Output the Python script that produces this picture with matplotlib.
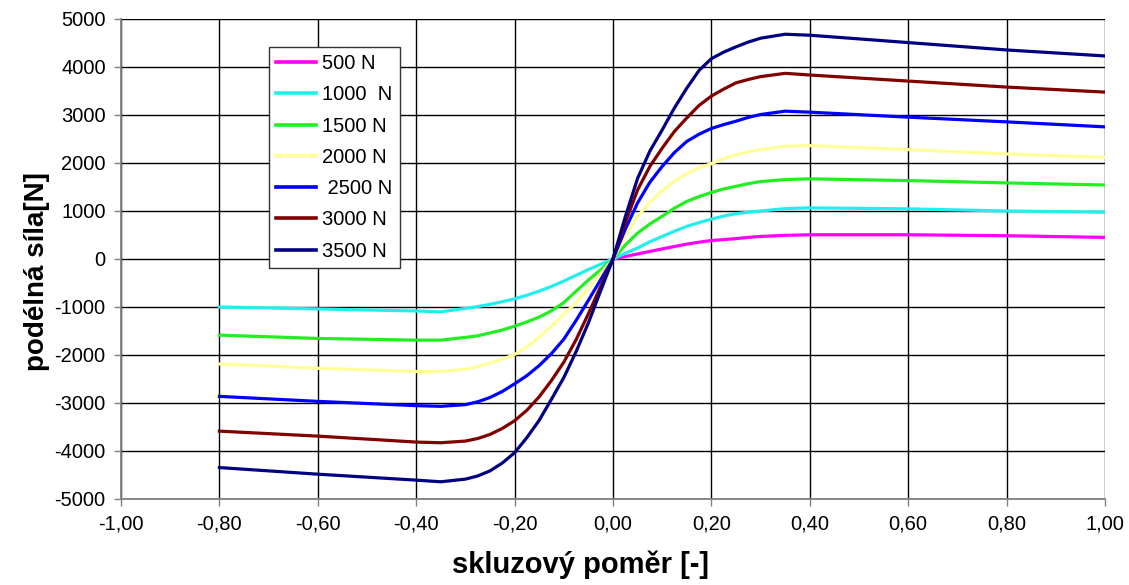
import matplotlib
matplotlib.use("Agg")
import matplotlib.pyplot as plt
from matplotlib.ticker import FixedLocator, FuncFormatter

# ---- data ----
x_full = [-0.8, -0.6, -0.4, -0.35, -0.3, -0.275, -0.25, -0.225, -0.2, -0.175, -0.15,
          -0.125, -0.1, -0.075, -0.05, -0.025,
          0.0, 0.025, 0.05, 0.075, 0.1, 0.125, 0.15, 0.175, 0.2, 0.225, 0.25, 0.275,
          0.3, 0.35, 0.4, 0.6, 0.8, 1.0]
x_pos = [0.0, 0.025, 0.05, 0.075, 0.1, 0.125, 0.15, 0.175, 0.2, 0.225, 0.25, 0.275,
         0.3, 0.35, 0.4, 0.6, 0.8, 1.0]

f_500 = [0, 52, 105, 158, 210, 260, 310, 350, 385, 405, 425, 450,
         470, 493, 505, 505, 485, 450]
f_1000 = [-1000, -1040, -1083, -1100, -1030, -990, -945, -890, -830, -755, -670,
          -570, -460, -340, -220, -110,
          0, 120, 230, 360, 470, 580, 680, 760, 830, 895, 944, 975,
          1000, 1050, 1065, 1045, 1000, 975]
f_1500 = [-1586, -1655, -1690, -1690, -1634, -1600, -1540, -1480, -1400, -1310, -1210,
          -1080, -910, -670, -440, -220,
          0, 290, 540, 730, 890, 1060, 1200, 1300, 1387, 1460, 1514, 1570,
          1613, 1655, 1670, 1634, 1585, 1542]
f_2000 = [-2186, -2276, -2345, -2345, -2297, -2240, -2170, -2090, -1990, -1830, -1630,
          -1400, -1150, -910, -610, -305,
          0, 470, 890, 1180, 1420, 1620, 1780, 1900, 1986, 2090, 2174, 2230,
          2279, 2350, 2362, 2279, 2188, 2118]
f_2500 = [-2862, -2966, -3055, -3069, -3034, -2975, -2885, -2760, -2600, -2430, -2220,
          -1970, -1670, -1280, -860, -430,
          0, 620, 1170, 1600, 1930, 2220, 2450, 2600, 2720, 2800, 2871, 2950,
          3010, 3080, 3059, 2955, 2857, 2753]
f_3000 = [-3586, -3690, -3814, -3828, -3793, -3740, -3655, -3530, -3370, -3150, -2870,
          -2530, -2150, -1680, -1140, -570,
          0, 760, 1440, 1930, 2310, 2660, 2940, 3200, 3394, 3540, 3670, 3740,
          3800, 3868, 3833, 3707, 3582, 3477]
f_3500 = [-4345, -4483, -4607, -4641, -4586, -4520, -4414, -4250, -4035, -3720, -3360,
          -2920, -2470, -1930, -1330, -660,
          0, 880, 1680, 2250, 2690, 3150, 3560, 3930, 4174, 4310, 4420, 4520,
          4600, 4683, 4662, 4509, 4355, 4230]

labels = ["500 N", "1000  N", "1500 N", "2000 N", " 2500 N", "3000 N", "3500 N"]
colors = ["#FF00FF", "#22EEEE", "#22EE22", "#FFFF99", "#0000FF", "#800000", "#000080"]

x_ticks = [-1.0, -0.8, -0.6, -0.4, -0.2, 0.0, 0.2, 0.4, 0.6, 0.8, 1.0]
y_ticks = [-5000, -4000, -3000, -2000, -1000, 0, 1000, 2000, 3000, 4000, 5000]

plt.rcParams['font.family'] = ['Liberation Sans', 'DejaVu Sans']

fig = plt.figure(figsize=(11.29, 5.85), dpi=100)
ax = fig.add_axes([121 / 1129, 1 - 499 / 585, (1105 - 121) / 1129, (499 - 19) / 585])

series = [(x_pos, f_500), (x_full, f_1000), (x_full, f_1500), (x_full, f_2000),
          (x_full, f_2500), (x_full, f_3000), (x_full, f_3500)]
for (xs, ys), lab, col in zip(series, labels, colors):
    ax.plot(xs, ys, color=col, lw=2.3, label=lab, solid_joinstyle='round')

ax.set_xlim(-1.0, 1.0)
ax.set_ylim(-5000, 5000)
ax.xaxis.set_major_locator(FixedLocator(x_ticks))
ax.yaxis.set_major_locator(FixedLocator(y_ticks))
ax.xaxis.set_major_formatter(FuncFormatter(lambda v, p: f"{v:.2f}".replace('.', ',').replace('-0,00', '0,00')))
ax.yaxis.set_major_formatter(FuncFormatter(lambda v, p: f"{int(round(v))}"))

ax.set_axisbelow(True)
ax.grid(True, color='black', lw=1.0)
for s in ['top', 'right']:
    ax.spines[s].set_visible(False)
for s in ['left', 'bottom']:
    ax.spines[s].set_color('#808080')
    ax.spines[s].set_linewidth(1.3)
ax.tick_params(axis='both', direction='out', length=5, color='#808080', width=1.0,
               labelsize=14.5, pad=6)

fig.text(581 / 1129, 1 - 565 / 585, "skluzový poměr [-]", fontsize=21, fontweight='bold',
         ha='center', va='center')
fig.text(37 / 1129, 1 - 272 / 585, "podélná síla[N]", fontsize=20, fontweight='bold',
         ha='center', va='center', rotation=90)

leg = ax.legend(loc='upper left', bbox_to_anchor=((269 - 121) / 984, 1 - (47 - 19) / 480),
                borderaxespad=0, fontsize=14.5, frameon=True, fancybox=False,
                handlelength=2.0, handletextpad=0.3, labelspacing=0.61,
                borderpad=0.35, edgecolor='#333333', framealpha=1)
leg.get_frame().set_linewidth(1.0)
for ln in leg.get_lines():
    ln.set_linewidth(2.6)

fig.savefig("out.png", dpi=100)
